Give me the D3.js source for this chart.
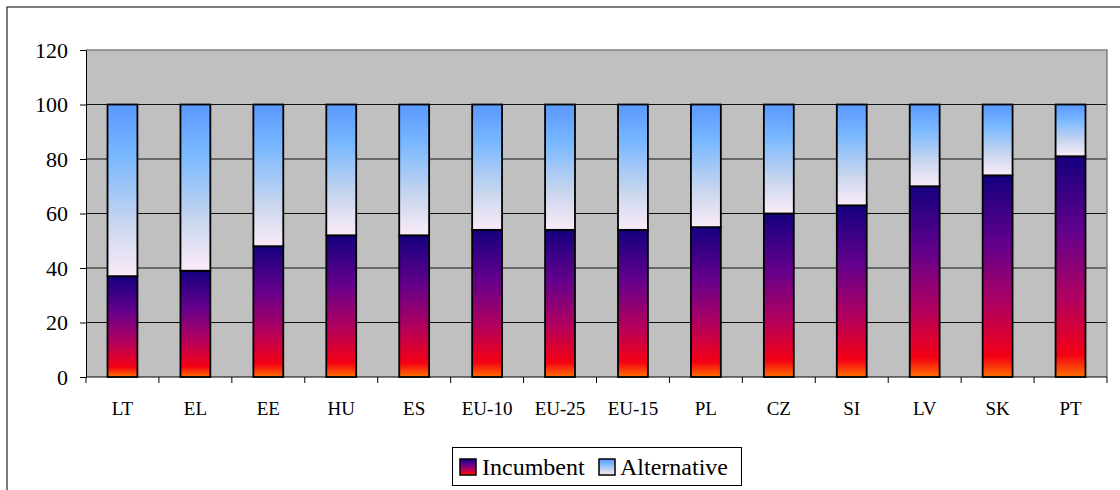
<!DOCTYPE html>
<html>
<head>
<meta charset="utf-8">
<script src="https://cdn.jsdelivr.net/npm/d3@7/dist/d3.min.js"></script>
<style>
  body { margin: 0; background: #fff; }
</style>
</head>
<body>
<svg id="chart" width="1120" height="490"></svg>
<script>
// data (share of market, %)
const countries = ['LT', 'EL', 'EE', 'HU', 'ES', 'EU-10', 'EU-25', 'EU-15', 'PL', 'CZ', 'SI', 'LV', 'SK', 'PT'];
const incumbent = [37, 39, 48, 52, 52, 54, 54, 54, 55, 60, 63, 70, 74, 81];
const alternative = [63, 61, 52, 48, 48, 46, 46, 46, 45, 40, 37, 30, 26, 19];
const yTicks = [0, 20, 40, 60, 80, 100, 120];
const seriesNames = ['Incumbent', 'Alternative'];

const SERIF = '"Liberation Serif", "Times New Roman", "DejaVu Serif", serif';

const svg = d3.select('#chart');

// plot box
const plot = { left: 86, top: 50, right: 1107, bottom: 377 };

// gradients
const defs = svg.append('defs');
function addGradient(id, stops) {
  const g = defs.append('linearGradient')
    .attr('id', id)
    .attr('x1', 0).attr('y1', 0).attr('x2', 0).attr('y2', 1);
  stops.forEach(s => g.append('stop').attr('offset', s[0]).attr('stop-color', s[1]));
}
addGradient('gradInc', [
  ['0%', '#14007f'],
  ['35%', '#65008c'],
  ['65%', '#b2005e'],
  ['90%', '#f40014'],
  ['100%', '#ff7000']
]);
addGradient('gradAlt', [
  ['0%', '#5a98ff'],
  ['30%', '#79b8ff'],
  ['70%', '#c9d6ee'],
  ['100%', '#fbebf8']
]);

// outer chart border (runs off the right and bottom edges)
svg.append('rect')
  .attr('x', 7).attr('y', 7)
  .attr('width', 1130).attr('height', 500)
  .attr('fill', 'none')
  .attr('stroke', '#222')
  .attr('stroke-width', 1.2);

// scales
const x = d3.scaleBand()
  .domain(countries)
  .range([plot.left, plot.right])
  .paddingInner(0.59)
  .paddingOuter(0.295);

const y = d3.scaleLinear()
  .domain([0, 120])
  .range([plot.bottom, plot.top]);

// plot background
svg.append('rect')
  .attr('x', plot.left).attr('y', plot.top)
  .attr('width', plot.right - plot.left)
  .attr('height', plot.bottom - plot.top)
  .attr('fill', '#c0c0c0');

// gridlines
svg.append('g')
  .selectAll('line')
  .data(yTicks.filter(d => d > 0 && d < 120))
  .enter().append('line')
  .attr('x1', plot.left).attr('x2', plot.right)
  .attr('y1', d => y(d)).attr('y2', d => y(d))
  .attr('stroke', '#111')
  .attr('stroke-width', 1);

// plot border top/right
svg.append('path')
  .attr('d', `M${plot.left},${plot.top}H${plot.right}V${plot.bottom}`)
  .attr('fill', 'none')
  .attr('stroke', '#808080')
  .attr('stroke-width', 1.5);

// y axis
const yAxis = d3.axisLeft(y)
  .tickValues(yTicks)
  .tickSize(6)
  .tickPadding(12)
  .tickSizeOuter(0);
const gy = svg.append('g')
  .attr('transform', `translate(${plot.left},0)`)
  .call(yAxis);
gy.select('.domain').attr('stroke', '#000');
gy.selectAll('.tick line').attr('stroke', '#000');
gy.selectAll('.tick text')
  .style('font-family', SERIF)
  .style('font-size', '22px')
  .attr('fill', '#000');

// x axis: baseline + ticks at category boundaries
const step = x.step();
const edge0 = x(countries[0]) - (step - x.bandwidth()) / 2;
const boundaries = d3.range(countries.length + 1).map(i => edge0 + i * step);
svg.append('line')
  .attr('x1', plot.left).attr('x2', plot.right)
  .attr('y1', plot.bottom).attr('y2', plot.bottom)
  .attr('stroke', '#000');
svg.append('g')
  .selectAll('line')
  .data(boundaries)
  .enter().append('line')
  .attr('x1', d => d).attr('x2', d => d)
  .attr('y1', plot.bottom).attr('y2', plot.bottom + 6)
  .attr('stroke', '#000');
svg.append('g')
  .selectAll('text')
  .data(countries)
  .enter().append('text')
  .attr('x', d => x(d) + x.bandwidth() / 2)
  .attr('y', 415)
  .attr('text-anchor', 'middle')
  .style('font-family', SERIF)
  .style('font-size', '19px')
  .attr('fill', '#000')
  .text(d => d);

// stacked bars
const bars = svg.append('g');
countries.forEach((c, i) => {
  const inc = incumbent[i];
  const alt = alternative[i];
  bars.append('rect')
    .attr('x', x(c)).attr('width', x.bandwidth())
    .attr('y', y(inc)).attr('height', y(0) - y(inc))
    .attr('fill', 'url(#gradInc)')
    .attr('stroke', '#000').attr('stroke-width', 1.8);
  bars.append('rect')
    .attr('x', x(c)).attr('width', x.bandwidth())
    .attr('y', y(inc + alt)).attr('height', y(inc) - y(inc + alt))
    .attr('fill', 'url(#gradAlt)')
    .attr('stroke', '#000').attr('stroke-width', 1.8);
});

// legend
const legend = svg.append('g');
legend.append('rect')
  .attr('x', 452.5).attr('y', 447.5)
  .attr('width', 289).attr('height', 38)
  .attr('fill', '#fff')
  .attr('stroke', '#000');
const legendItems = [
  { name: seriesNames[0], fill: 'url(#gradInc)', sx: 460, tx: 482 },
  { name: seriesNames[1], fill: 'url(#gradAlt)', sx: 599, tx: 620 }
];
legendItems.forEach(it => {
  legend.append('rect')
    .attr('x', it.sx).attr('y', 459)
    .attr('width', 16).attr('height', 16)
    .attr('fill', it.fill)
    .attr('stroke', '#000').attr('stroke-width', 1.5);
  legend.append('text')
    .attr('x', it.tx).attr('y', 475)
    .style('font-family', SERIF)
    .style('font-size', '24px')
    .attr('fill', '#000')
    .text(it.name);
});
</script>
</body>
</html>
